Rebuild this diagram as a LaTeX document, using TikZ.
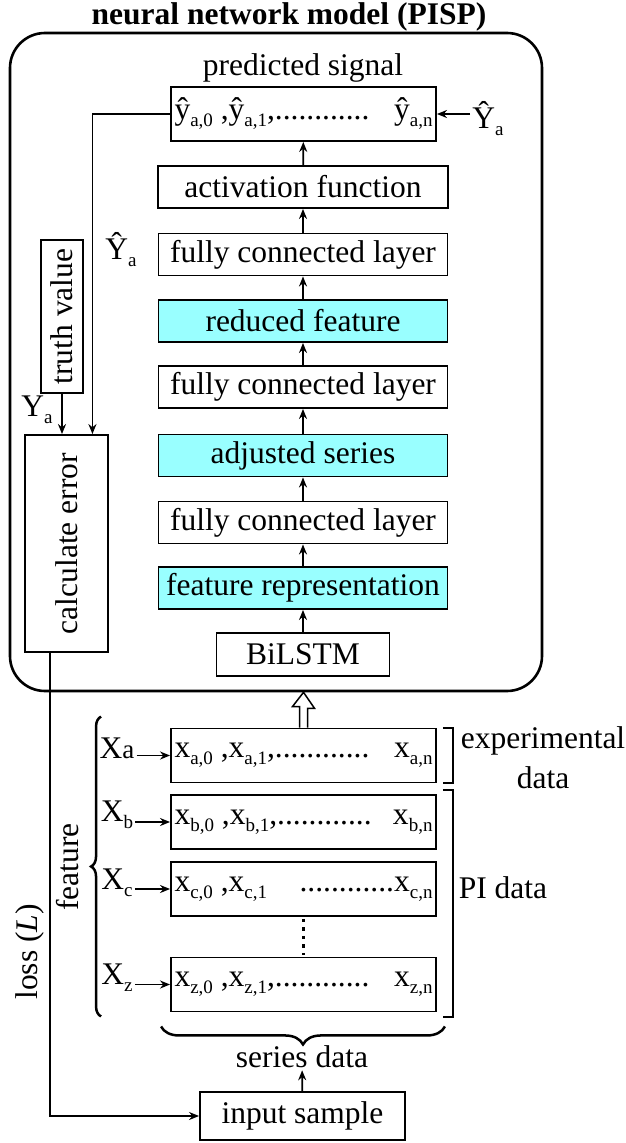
\documentclass[tikz,border=0pt]{standalone}
\usepackage{fontspec}
\setmainfont{Liberation Serif}
\usepackage{graphicx}
\usetikzlibrary{arrows.meta,decorations.pathreplacing,calc}

\definecolor{celeste}{RGB}{153,255,255}
\newcommand{\tam}{\fontsize{31.5}{40}\selectfont}
\newcommand{\subi}[1]{\raisebox{-7pt}{\fontsize{19}{19}\selectfont #1}}
\newcommand{\puntos}{............}
\newcommand{\fila}[1]{\makebox[258pt][s]{#1}}

\begin{document}
\begin{tikzpicture}[x=1pt,y=-1pt,
  caja/.style={draw, line width=1.9pt, inner sep=0pt, minimum height=42pt, font=\tam},
  capa/.style={caja, minimum width=289pt},
  cian/.style={capa, fill=celeste},
  serie/.style={caja, minimum width=265pt, minimum height=54pt},
  etiq/.style={inner sep=2pt, font=\tam},
  flecha/.style={-{Stealth[length=10pt,width=8pt]}, line width=1.7pt},
  llave/.style={decorate, line width=2.5pt}]
\useasboundingbox (0,0) rectangle (626,1143);
%
% titulo y recuadro del modelo
\node[etiq, font=\tam\bfseries] (titulo) at (289,17) {neural network model (PISP)};
\node[draw, line width=2.6pt, rounded corners=35pt, minimum width=532pt, minimum height=658pt] (modelo) at (276,362) {};
%
% salida
\node[etiq] (senal) at (303,68) {predicted signal};
\node[serie] (pred) at (303.5,114) {\fila{ŷ\subi{a,0} ,ŷ\subi{a,1},\puntos\hfill ŷ\subi{a,n}}};
\node[etiq] (yhatd) at (488,119) {Ŷ\subi{a}};
%
% capas de la red
\node[caja, minimum width=290pt] (act) at (303,187) {activation function};
\node[capa] (fc1) at (303,254.5) {fully connected layer};
\node[cian] (red) at (303,321) {reduced feature};
\node[capa] (fc2) at (303,387) {fully connected layer};
\node[cian] (adj) at (303,455.5) {adjusted series};
\node[capa] (fc3) at (303,522.5) {fully connected layer};
\node[cian] (rep) at (303,588) {feature representation};
\node[caja, minimum width=173pt, minimum height=43pt] (bilstm) at (303,654.5) {BiLSTM};
%
% error
\node[caja, minimum width=42pt, minimum height=153pt] (verdad) at (62,316.5) {\rotatebox{90}{truth value}};
\node[caja, minimum width=83pt, minimum height=217pt] (calc) at (66.5,543.5) {\rotatebox{90}{calculate error}};
\node[etiq] (yhati) at (121,250) {Ŷ\subi{a}};
\node[etiq] (ya) at (37,410) {Y\subi{a}};
\node[etiq] (perdida) at (30,952) {\rotatebox{90}{loss (\textit{L})}};
%
% datos de entrada
\node[serie] (xa) at (303.5,755.5) {\fila{x\subi{a,0} ,x\subi{a,1},\puntos\hfill x\subi{a,n}}};
\node[serie] (xb) at (303.5,822) {\fila{x\subi{b,0} ,x\subi{b,1},\puntos\hfill x\subi{b,n}}};
\node[serie] (xc) at (303.5,889) {\fila{x\subi{c,0} ,x\subi{c,1}\hfill\puntos x\subi{c,n}}};
\node[serie] (xz) at (303.5,984.5) {\fila{x\subi{z,0} ,x\subi{z,1},\puntos\hfill x\subi{z,n}}};
\node[etiq] (Xa) at (117,748) {X{\fontsize{27}{27}\selectfont a}};
\node[etiq] (Xb) at (117,815) {X\subi{b}};
\node[etiq] (Xc) at (117,883) {X\subi{c}};
\node[etiq] (Xz) at (117,978) {X\subi{z}};
\node[etiq] (rasgo) at (68,867) {\rotatebox{90}{feature}};
\node[etiq, align=center] (exp) at (543,758) {experimental\\data};
\node[etiq] (pi) at (503,888) {PI data};
\node[etiq] (sd) at (302,1057) {series data};
\node[caja, minimum width=205pt, minimum height=48pt] (entrada) at (302.5,1116) {input sample};
%
% flechas
\foreach \a/\b in {bilstm/rep, rep/fc3, fc3/adj, adj/fc2, fc2/red, red/fc1, fc1/act, act/pred}
  \draw[flecha] (\a) -- (\b);
\draw[flecha] (pred.east -| yhatd.west) -- (pred.east);
\draw[flecha] (pred.west) -| ([xshift=-16.5pt]calc.north east);
\draw[flecha] (verdad.south) -- (verdad.south |- calc.north);
\draw[flecha] ([xshift=-16.5pt]calc.south) |- (entrada.west);
\draw[flecha] (entrada) -- (sd);
\foreach \n in {a,b,c,z}
  \draw[flecha] (X\n.east |- x\n.west) -- (x\n.west);
\draw[line width=3.5pt, dash pattern=on 3.5pt off 5pt] ([yshift=-2pt]xc.south) -- ([yshift=2pt]xz.north);
%
% flecha hueca hacia el modelo
\draw[line width=1.5pt, fill=white] ($(xa.north)+(-4,0)$) -- ++(0,-21) -- ++(-7,0)
  -- (xa.north |- modelo.south) -- ++(11,16) -- ++(-7,0) -- ($(xa.north)+(4,0)$);
%
% corchetes y llaves
\draw[line width=2pt] ($(xa.north east)+(6,0)$) -- ++(10,0) |- ($(xa.south east)+(6,0)$);
\draw[line width=2pt] ($(xb.north east)+(6,-4)$) -- ++(10,0) |- ($(xz.south east)+(6,5)$);
\draw[llave, decoration={brace, amplitude=10pt}] ($(xz.south west)+(-69,4)$) -- ($(xa.north west)+(-69,-11)$);
\draw[llave, decoration={brace, amplitude=18pt}] ($(xz.south east)+(8,14)$) -- ($(xz.south west)+(-9,14)$);
%
\end{tikzpicture}
\end{document}
